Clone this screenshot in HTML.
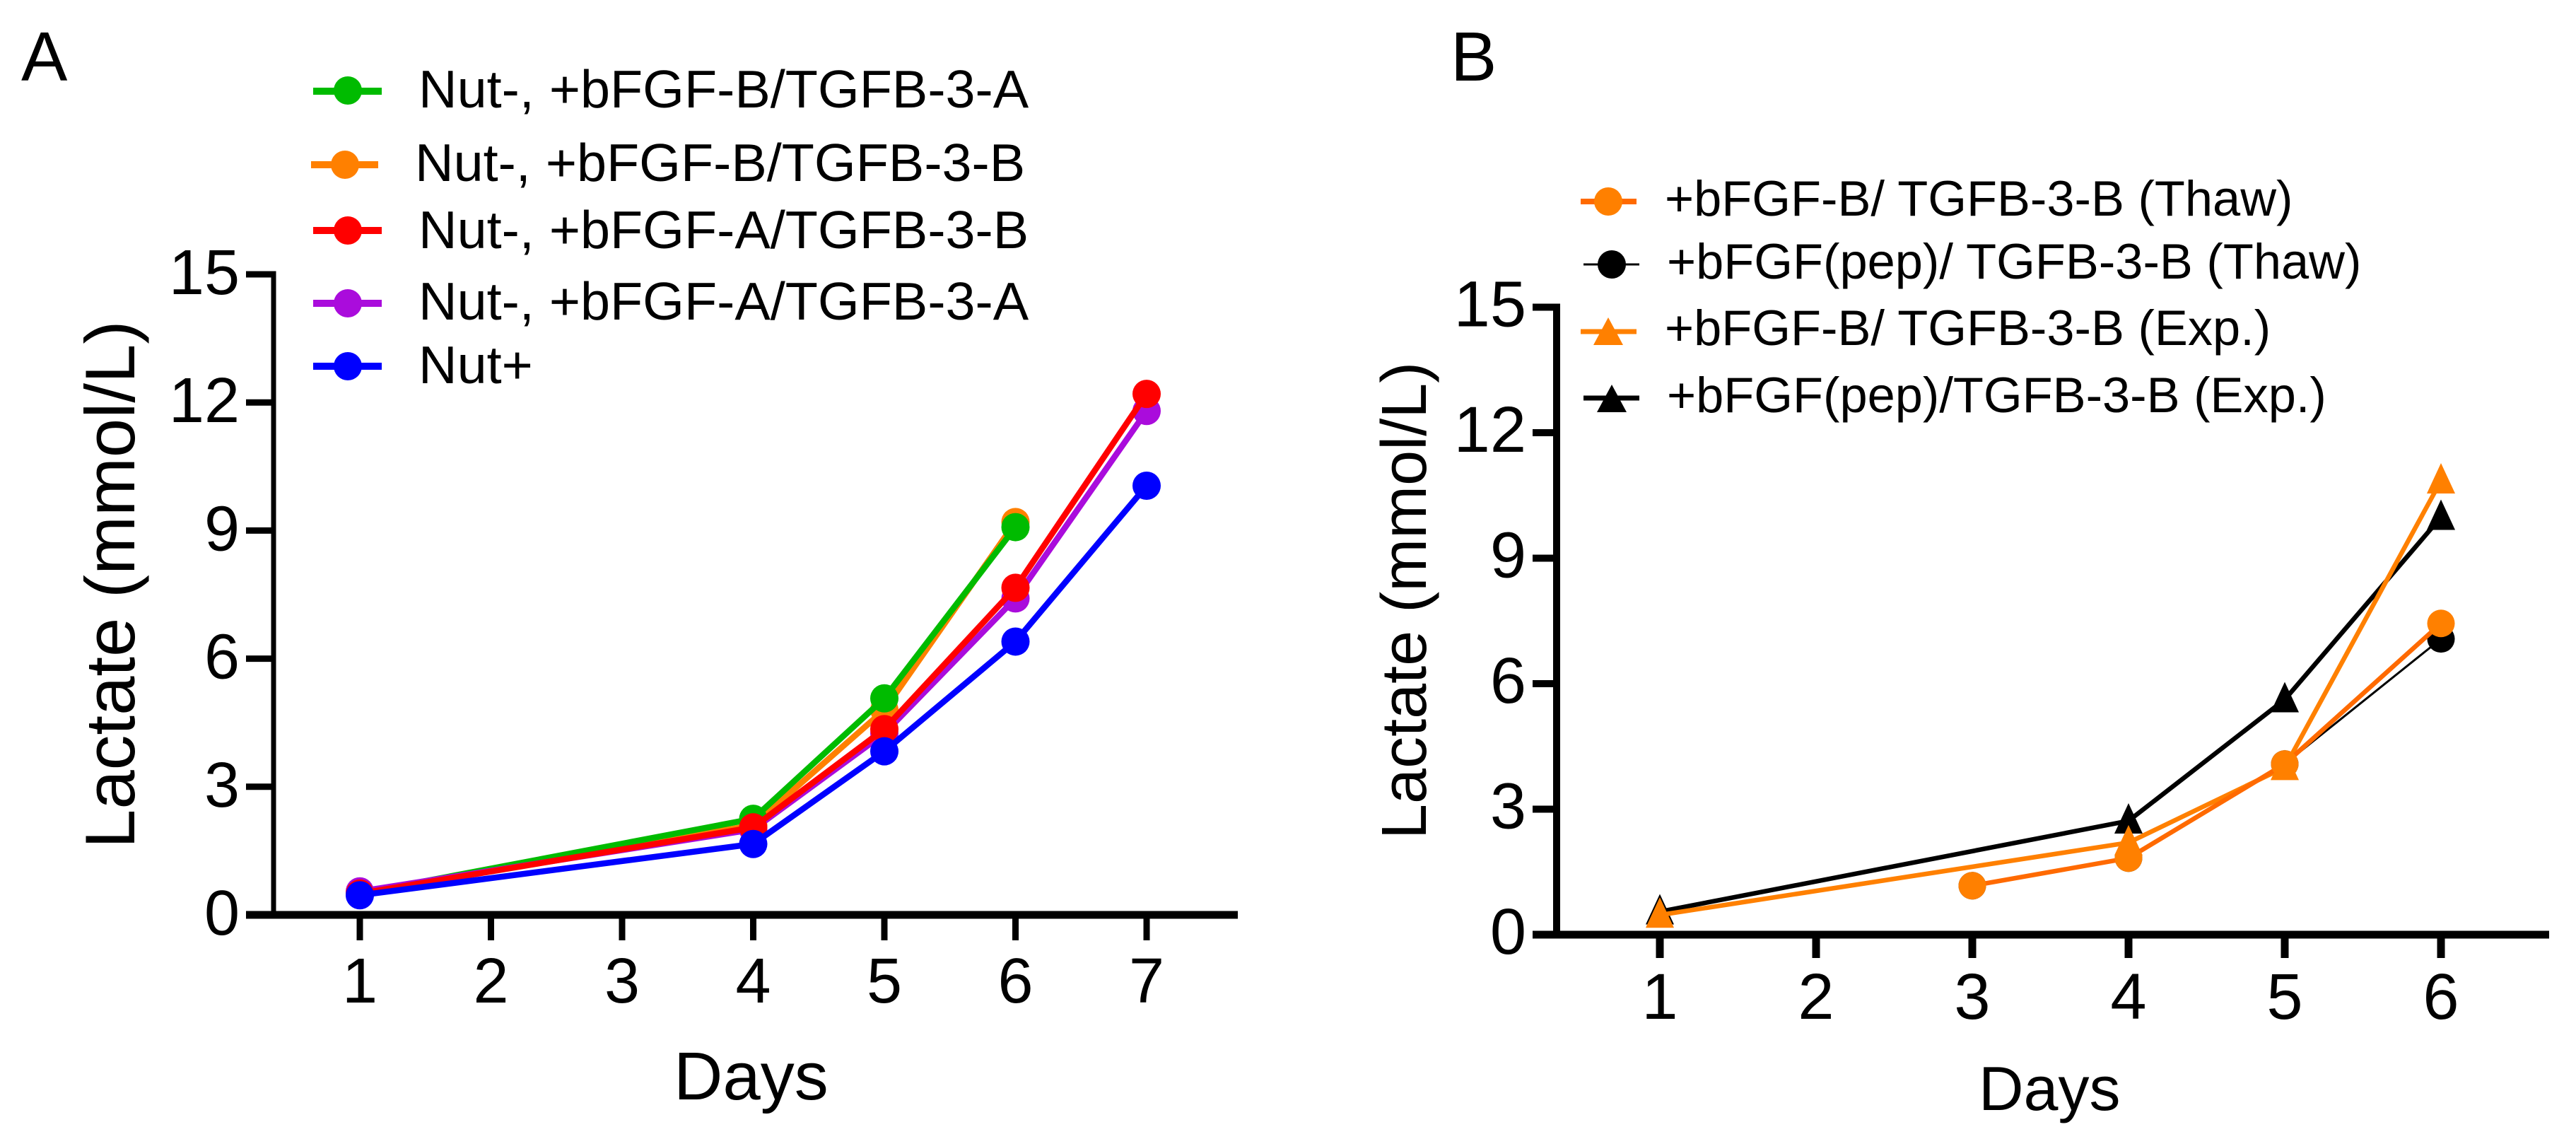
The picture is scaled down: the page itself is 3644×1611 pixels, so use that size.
<!DOCTYPE html>
<html lang="en">
<head>
<meta charset="utf-8">
<title>Lactate over days</title>
<style>
html,body{margin:0;padding:0;background:#fff;}
svg{display:block;}
text{font-family:"Liberation Sans",Arial,sans-serif;fill:#000;}
</style>
</head>
<body>
<svg id="chart" xmlns="http://www.w3.org/2000/svg" width="3644" height="1611" viewBox="0 0 3644 1611">
  <rect width="3644" height="1611" fill="#fff"/>
  <text x="30" y="114" font-size="98">A</text>
  <text x="2052" y="114" font-size="98">B</text>

  <text transform="translate(190,1200) rotate(-90)" font-size="99.5">Lactate (mmol/L)</text>
  <text x="953" y="1555" font-size="96">Days</text>
  <text transform="translate(2017,1187) rotate(-90)" font-size="90">Lactate (mmol/L)</text>
  <text x="2799" y="1570" font-size="88">Days</text>

  <g id="panelA"></g>
  <g id="panelB"></g>

  <g font-size="75.6">
    <g>
      <line x1="443" x2="540" y1="129" y2="129" stroke="#00bb00" stroke-width="10"/><circle cx="492" cy="128" r="20" fill="#00bb00"/>
      <text x="592" y="152">Nut-, +bFGF-B/TGFB-3-A</text>
    </g>
    <g>
      <line x1="440" x2="535" y1="233" y2="233" stroke="#ff8000" stroke-width="10"/><circle cx="488" cy="233" r="20" fill="#ff8000"/>
      <text x="587" y="256">Nut-, +bFGF-B/TGFB-3-B</text>
    </g>
    <g>
      <line x1="443" x2="540" y1="326" y2="326" stroke="#ff0000" stroke-width="10"/><circle cx="492" cy="326" r="20" fill="#ff0000"/>
      <text x="592" y="351">Nut-, +bFGF-A/TGFB-3-B</text>
    </g>
    <g>
      <line x1="443" x2="540" y1="429" y2="429" stroke="#aa0cdc" stroke-width="10"/><circle cx="492" cy="429" r="20" fill="#aa0cdc"/>
      <text x="592" y="452">Nut-, +bFGF-A/TGFB-3-A</text>
    </g>
    <g>
      <line x1="443" x2="540" y1="518" y2="518" stroke="#0000ff" stroke-width="10"/><circle cx="492" cy="518" r="20" fill="#0000ff"/>
      <text x="592" y="542">Nut+</text>
    </g>
  </g>

  <g font-size="70.4">
    <g>
      <line x1="2236" x2="2315" y1="285" y2="285" stroke="#ff6a00" stroke-width="8"/><circle cx="2275" cy="285" r="20" fill="#ff8000"/>
      <text x="2355" y="305">+bFGF-B/ TGFB-3-B (Thaw)</text>
    </g>
    <g>
      <line x1="2240" x2="2319" y1="374" y2="374" stroke="#000" stroke-width="3"/><circle cx="2280" cy="374" r="20" fill="#000"/>
      <text x="2358" y="394">+bFGF(pep)/ TGFB-3-B (Thaw)</text>
    </g>
    <g>
      <line x1="2236" x2="2315" y1="469" y2="469" stroke="#ff8000" stroke-width="7"/><polygon points="2275,449 2296,488 2254,488" fill="#ff8000"/>
      <text x="2355" y="488">+bFGF-B/ TGFB-3-B (Exp.)</text>
    </g>
    <g>
      <line x1="2240" x2="2319" y1="563" y2="563" stroke="#000" stroke-width="7"/><polygon points="2280,544 2301,583 2259,583" fill="#000"/>
      <text x="2358" y="583">+bFGF(pep)/TGFB-3-B (Exp.)</text>
    </g>
  </g>
</svg>
<script>
// Panel A data
const daysA = [1, 2, 3, 4, 5, 6, 7];
const yTicksA = [0, 3, 6, 9, 12, 15];
const orangeA = [0.5, null, null, 2.1, 4.8, 9.2, null];
const greenA = [0.5, null, null, 2.25, 5.07, 9.08, null];
const purpleA = [0.55, null, null, 2.0, 4.25, 7.41, 11.8];
const redA = [0.5, null, null, 2.05, 4.35, 7.66, 12.2];
const blueA = [0.46, null, null, 1.66, 3.83, 6.4, 10.05];

// Panel B data
const daysB = [1, 2, 3, 4, 5, 6];
const yTicksB = [0, 3, 6, 9, 12, 15];
const pepThawB = [null, null, 1.17, 1.83, 4.08, 7.07];
const pepExpB = [0.55, null, null, 2.72, 5.62, 9.98];
const bExpB = [0.47, null, null, 2.2, 4.0, 10.85];
const bThawB = [null, null, 1.17, 1.83, 4.08, 7.44];

const SVG_NS = 'http://www.w3.org/2000/svg';

function make(tag, attrs, parent) {
  const el = document.createElementNS(SVG_NS, tag);
  for (const k in attrs) el.setAttribute(k, attrs[k]);
  parent.appendChild(el);
  return el;
}

function drawAxes(root, p, days, yTicks) {
  const yAxis = make('line', {x1: p.axisX, x2: p.axisX, y1: p.y(yTicks[yTicks.length - 1]) - p.yTickW / 2, y2: p.y(0), stroke: '#000', 'stroke-width': p.axisW}, root);
  
  
  const xAxis = make('line', {x1: p.tickLeft, x2: p.axisEnd, y1: p.y(0), y2: p.y(0), stroke: '#000', 'stroke-width': 11}, root);
  
  
  yTicks.forEach(function (v) {
    const t = make('line', {x1: p.tickLeft, x2: p.axisX, y1: p.y(v), y2: p.y(v), stroke: '#000', 'stroke-width': p.yTickW}, root);
    
    
    const lab = make('text', {x: p.yLabelX, y: p.y(v) + p.yLabelDy, 'font-size': p.tickFont, 'text-anchor': 'end'}, root);
    lab.textContent = String(v);
    
    
  });
  days.forEach(function (d) {
    const t = make('line', {x1: p.x(d), x2: p.x(d), y1: p.y(0), y2: p.y(0) + p.tickLen, stroke: '#000', 'stroke-width': p.xTickW}, root);
    
    
    const lab = make('text', {x: p.x(d), y: p.xLabelY, 'font-size': p.tickFont, 'text-anchor': 'middle'}, root);
    lab.textContent = String(d);
    
    
  });
}

function drawSeries(root, p, days, values, style) {
  const g = make('g', {}, root);
  
  
  const pts = [];
  days.forEach(function (d, i) {
    if (values[i] !== null) pts.push([p.x(d), p.y(values[i])]);
  });
  const line = make('polyline', {
    points: pts.map(function (q) { return q[0] + ',' + q[1]; }).join(' '),
    fill: 'none', stroke: style.lineColor, 'stroke-width': style.lineWidth, 'stroke-linejoin': 'round'
  }, g);
  
  
  pts.forEach(function (q, i) {
    let m;
    if (style.shape === 'circle') {
      m = make('circle', {cx: q[0], cy: q[1], r: style.size, fill: style.color}, g);
    } else {
      const s = style.size;
      m = make('polygon', {
        points: q[0] + ',' + (q[1] - s * 1.25) + ' ' + (q[0] + s) + ',' + (q[1] + s * 0.9) + ' ' + (q[0] - s) + ',' + (q[1] + s * 0.9),
        fill: style.color
      }, g);
    }
    
    
  });
}

const panelA = {
  name: 'panel-a',
  x: function (d) { return 509 + (d - 1) * 185.5; },
  y: function (v) { return 1294 - v * 60.4; },
  axisX: 387, tickLeft: 348, axisEnd: 1751, tickLen: 36,
  axisW: 7, yTickW: 9, xTickW: 9,
  yLabelX: 339, yLabelDy: 28, xLabelY: 1418, tickFont: 90
};
const panelB = {
  name: 'panel-b',
  x: function (d) { return 2348 + (d - 1) * 221; },
  y: function (v) { return 1322 - v * 59.17; },
  axisX: 2202, tickLeft: 2168, axisEnd: 3606, tickLen: 33,
  axisW: 10, yTickW: 10, xTickW: 11,
  yLabelX: 2159, yLabelDy: 27, xLabelY: 1441, tickFont: 92
};

const rootA = document.getElementById('panelA');
const rootB = document.getElementById('panelB');
drawAxes(rootA, panelA, daysA, yTicksA);
drawAxes(rootB, panelB, daysB, yTicksB);

drawSeries(rootA, panelA, daysA, orangeA, {key: 'nut-minus-bfgf-b-tgfb-3-b', color: '#ff8000', lineColor: '#ff8000', lineWidth: 8.5, shape: 'circle', size: 20});
drawSeries(rootA, panelA, daysA, greenA, {key: 'nut-minus-bfgf-b-tgfb-3-a', color: '#00bb00', lineColor: '#00bb00', lineWidth: 8.5, shape: 'circle', size: 20});
drawSeries(rootA, panelA, daysA, purpleA, {key: 'nut-minus-bfgf-a-tgfb-3-a', color: '#aa0cdc', lineColor: '#aa0cdc', lineWidth: 8.5, shape: 'circle', size: 20});
drawSeries(rootA, panelA, daysA, redA, {key: 'nut-minus-bfgf-a-tgfb-3-b', color: '#ff0000', lineColor: '#ff0000', lineWidth: 8.5, shape: 'circle', size: 20});
drawSeries(rootA, panelA, daysA, blueA, {key: 'nut-plus', color: '#0000ff', lineColor: '#0000ff', lineWidth: 8.5, shape: 'circle', size: 20});

drawSeries(rootB, panelB, daysB, pepThawB, {key: 'bfgf-pep-thaw', color: '#000', lineColor: '#000', lineWidth: 3, shape: 'circle', size: 19.5});
drawSeries(rootB, panelB, daysB, pepExpB, {key: 'bfgf-pep-exp', color: '#000', lineColor: '#000', lineWidth: 6.5, shape: 'triangle', size: 20});
drawSeries(rootB, panelB, daysB, bExpB, {key: 'bfgf-b-exp', color: '#ff8000', lineColor: '#ff8000', lineWidth: 6.5, shape: 'triangle', size: 20});
drawSeries(rootB, panelB, daysB, bThawB, {key: 'bfgf-b-thaw', color: '#ff8000', lineColor: '#ff6a00', lineWidth: 6.5, shape: 'circle', size: 19.5});
</script>
</body>
</html>
